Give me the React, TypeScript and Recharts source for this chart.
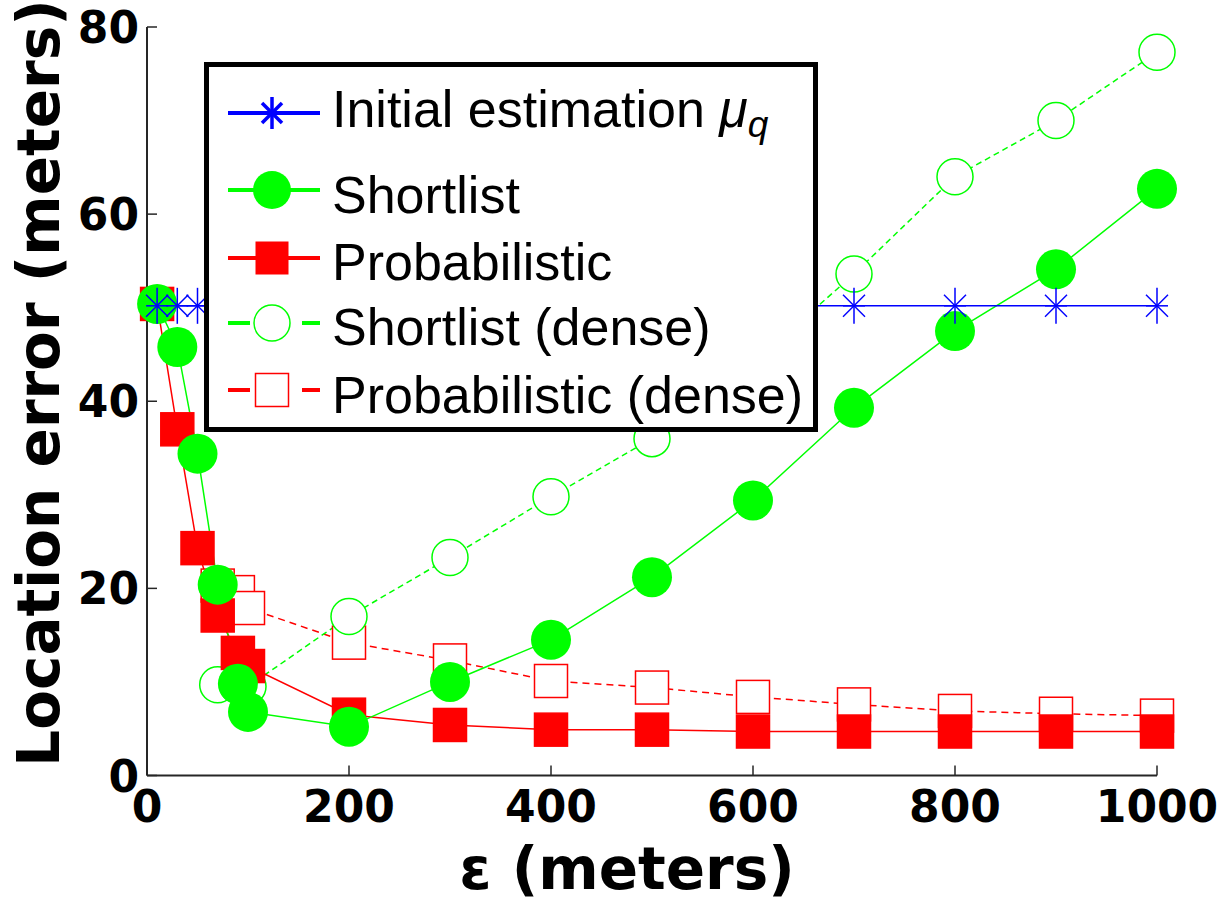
import React from "react";
import { LineChart, Line, XAxis, YAxis, Label } from "recharts";

// epsilon values (meters)
const EPS = [10, 30, 50, 70, 90, 100, 200, 300, 400, 500, 600, 700, 800, 900, 1000];

const INITIAL = [50.2, 50.2, 50.2, 50.2, 50.2, 50.2, 50.2, 50.2, 50.2, 50.2, 50.2, 50.2, 50.2, 50.2, 50.2];
const SHORTLIST = [50.4, 45.8, 34.4, 20.4, 9.8, 6.8, 5.2, 10.0, 14.5, 21.2, 29.4, 39.3, 47.5, 54.1, 62.7];
const PROBABILISTIC = [50.4, 37.0, 24.3, 17.1, 13.1, 11.7, 6.5, 5.4, 4.9, 4.9, 4.7, 4.7, 4.7, 4.7, 4.7];
const SHORTLIST_DENSE = [null, null, null, 9.7, 9.6, 9.5, 17.0, 23.3, 29.8, 36.0, 44.0, 53.6, 64.0, 70.0, 77.3];
const PROB_DENSE = [null, null, null, 20.3, 19.6, 17.9, 14.2, 12.3, 10.1, 9.4, 8.4, 7.6, 6.9, 6.6, 6.4];

const X_TICKS = [0, 200, 400, 600, 800, 1000];
const Y_TICKS = [0, 20, 40, 60, 80];

const BLUE = "#0000ff";
const GREEN = "#00ff00";
const RED = "#ff0000";
const AXIS = "#262626";
const BOLD_FONT = "'DejaVu Sans', sans-serif";
const LEGEND_FONT = "'Liberation Sans', Arial, sans-serif";
const TICK_LEN = 10;

const data = EPS.map((e, i) => ({
  eps: e,
  initial: INITIAL[i],
  shortlist: SHORTLIST[i],
  probabilistic: PROBABILISTIC[i],
  shortlistDense: SHORTLIST_DENSE[i],
  probDense: PROB_DENSE[i],
}));

function Star({ cx, cy, v = 18, d = 11, w = 1.5 }: { cx: number; cy: number; v?: number; d?: number; w?: number }) {
  return (
    <g stroke={BLUE} strokeWidth={w}>
      <line x1={cx} y1={cy - v} x2={cx} y2={cy + v} />
      <line x1={cx - d} y1={cy} x2={cx + d} y2={cy} />
      <line x1={cx - d} y1={cy - d} x2={cx + d} y2={cy + d} />
      <line x1={cx - d} y1={cy + d} x2={cx + d} y2={cy - d} />
    </g>
  );
}

const starDot = (p: any) =>
  p.cy == null ? <g key={`st-${p.index}`} /> : <Star key={`st-${p.index}`} cx={p.cx} cy={p.cy} />;

const squareDot = (filled: boolean) => (p: any) =>
  p.cy == null ? (
    <g key={`sq-${p.index}`} />
  ) : (
    <rect
      key={`sq-${p.index}`}
      x={p.cx - 16.5}
      y={p.cy - 16.5}
      width={33}
      height={33}
      fill={filled ? RED : "#fff"}
      stroke={RED}
      strokeWidth={1.5}
    />
  );

const circleDot = (filled: boolean) => (p: any) =>
  p.cy == null ? (
    <g key={`ci-${p.index}`} />
  ) : (
    <circle
      key={`ci-${p.index}`}
      cx={p.cx}
      cy={p.cy}
      r={filled ? 20 : 18}
      fill={filled ? GREEN : "#fff"}
      stroke={GREEN}
      strokeWidth={filled ? 0 : 1.5}
    />
  );

function BottomTick({ x, y, payload }: any) {
  return (
    <g>
      <line x1={x} y1={y} x2={x} y2={y - TICK_LEN} stroke={AXIS} strokeWidth={1.5} />
      <text x={x} y={y + 46} textAnchor="middle" fontFamily={BOLD_FONT} fontWeight="bold" fontSize={44} fill="#000">
        {payload.value}
      </text>
    </g>
  );
}

function LeftTick({ x, y, payload }: any) {
  return (
    <g>
      <line x1={x} y1={y} x2={x + TICK_LEN} y2={y} stroke={AXIS} strokeWidth={1.5} />
      <text x={x - 8} y={y + 16} textAnchor="end" fontFamily={BOLD_FONT} fontWeight="bold" fontSize={44} fill="#000">
        {payload.value}
      </text>
    </g>
  );
}

function TopTick({ x, y }: any) {
  return <line x1={x} y1={y} x2={x} y2={y + TICK_LEN} stroke={AXIS} strokeWidth={1.5} />;
}

function RightTick({ x, y }: any) {
  return <line x1={x} y1={y} x2={x - TICK_LEN} y2={y} stroke={AXIS} strokeWidth={1.5} />;
}

function LegendBox() {
  const rows = [46, 123, 191, 256, 323];
  const base = [60, 146, 213, 278, 346];
  const text = { fontFamily: LEGEND_FONT, fontSize: 52, fill: "#000" };
  return (
    <div
      style={{
        position: "absolute",
        left: 204,
        top: 62,
        width: 604,
        height: 360,
        border: "5px solid #000",
        background: "#fff",
      }}
    >
      <svg width={604} height={360}>
        {/* initial estimation */}
        <line x1={19} y1={rows[0]} x2={111} y2={rows[0]} stroke={BLUE} strokeWidth={4} />
        <Star cx={63} cy={rows[0]} v={16} d={10} w={3.5} />
        <text x={123} y={base[0]} {...text}>
          Initial estimation{" "}
          <tspan fontStyle="italic">μ</tspan>
          <tspan fontStyle="italic" fontSize={37} dy={10}>q</tspan>
        </text>
        {/* shortlist */}
        <line x1={19} y1={rows[1]} x2={111} y2={rows[1]} stroke={GREEN} strokeWidth={4} />
        <circle cx={63} cy={rows[1]} r={19} fill={GREEN} />
        <text x={123} y={base[1]} {...text}>Shortlist</text>
        {/* probabilistic */}
        <line x1={19} y1={rows[2]} x2={111} y2={rows[2]} stroke={RED} strokeWidth={4} />
        <rect x={46.5} y={rows[2] - 16.5} width={33} height={33} fill={RED} />
        <text x={123} y={base[2]} {...text}>Probabilistic</text>
        {/* shortlist dense */}
        <line x1={19} y1={rows[3]} x2={41} y2={rows[3]} stroke={GREEN} strokeWidth={4} />
        <line x1={93} y1={rows[3]} x2={111} y2={rows[3]} stroke={GREEN} strokeWidth={4} />
        <circle cx={63} cy={rows[3]} r={18} fill="#fff" stroke={GREEN} strokeWidth={1.5} />
        <text x={123} y={base[3]} {...text}>Shortlist (dense)</text>
        {/* probabilistic dense */}
        <line x1={19} y1={rows[4]} x2={41} y2={rows[4]} stroke={RED} strokeWidth={4} />
        <line x1={93} y1={rows[4]} x2={111} y2={rows[4]} stroke={RED} strokeWidth={4} />
        <rect x={46.5} y={rows[4] - 16.5} width={33} height={33} fill="#fff" stroke={RED} strokeWidth={1.5} />
        <text x={123} y={base[4]} {...text}>Probabilistic (dense)</text>
      </svg>
    </div>
  );
}

export default function App() {
  return (
    <div style={{ position: "absolute", left: 0, top: 0, width: 1230, height: 914, background: "#fff" }}>
      <LineChart width={1230} height={914} data={data} margin={{ top: 27, right: 73, bottom: 0, left: 0 }}>
        <XAxis
          dataKey="eps"
          type="number"
          domain={[0, 1000]}
          ticks={X_TICKS}
          height={138.5}
          tickSize={0}
          tickMargin={0}
          tickLine={false}
          tick={<BottomTick />}
          axisLine={{ stroke: AXIS, strokeWidth: 2 }}
        >
          <Label
            content={() => (
              <text
                x={627}
                y={889}
                textAnchor="middle"
                fontFamily={BOLD_FONT}
                fontWeight="bold"
                fontSize={58}
                fill="#000"
              >
                ε (meters)
              </text>
            )}
          />
        </XAxis>
        <XAxis
          xAxisId="top"
          orientation="top"
          dataKey="eps"
          type="number"
          domain={[0, 1000]}
          ticks={X_TICKS}
          height={0}
          tickSize={0}
          tickMargin={0}
          tickLine={false}
          tick={<TopTick />}
          axisLine={{ stroke: AXIS, strokeWidth: 2 }}
        />
        <YAxis
          type="number"
          domain={[0, 80]}
          ticks={Y_TICKS}
          width={147}
          tickSize={0}
          tickMargin={0}
          tickLine={false}
          tick={<LeftTick />}
          axisLine={{ stroke: AXIS, strokeWidth: 2 }}
        >
          <Label
            content={() => (
              <text
                x={59}
                y={383}
                transform="rotate(-90, 59, 383)"
                textAnchor="middle"
                fontFamily={BOLD_FONT}
                fontWeight="bold"
                fontSize={58}
                fill="#000"
              >
                Location error (meters)
              </text>
            )}
          />
        </YAxis>
        <YAxis
          yAxisId="right"
          orientation="right"
          type="number"
          domain={[0, 80]}
          ticks={Y_TICKS}
          width={0}
          tickSize={0}
          tickMargin={0}
          tickLine={false}
          tick={<RightTick />}
          axisLine={{ stroke: AXIS, strokeWidth: 2 }}
        />
        <Line
          dataKey="probDense"
          stroke={RED}
          strokeWidth={1.5}
          strokeDasharray="7 5"
          dot={squareDot(false)}
          isAnimationActive={false}
        />
        <Line
          dataKey="shortlistDense"
          stroke={GREEN}
          strokeWidth={1.5}
          strokeDasharray="6 4"
          dot={circleDot(false)}
          isAnimationActive={false}
        />
        <Line dataKey="probabilistic" stroke={RED} strokeWidth={1.5} dot={squareDot(true)} isAnimationActive={false} />
        <Line dataKey="shortlist" stroke={GREEN} strokeWidth={1.5} dot={circleDot(true)} isAnimationActive={false} />
        <Line dataKey="initial" stroke={BLUE} strokeWidth={1.5} dot={starDot} isAnimationActive={false} />
      </LineChart>
      <LegendBox />
    </div>
  );
}
